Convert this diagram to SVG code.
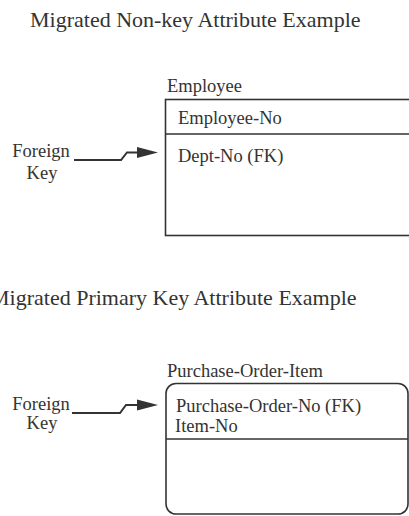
<svg xmlns="http://www.w3.org/2000/svg" width="409" height="516" viewBox="0 0 409 516">
<style>
text{font-family:"Liberation Serif","Times New Roman",serif;fill:#333}
.title{font-size:22px}
.lbl{font-size:18.5px}
.box{fill:none;stroke:#333;stroke-width:1.6}
.div{stroke:#333;stroke-width:1.6}
.conn{fill:none;stroke:#333;stroke-width:2}
.head{fill:#333}
</style>
<rect width="409" height="516" fill="#fff"/>
<text class="title" x="30" y="27">Migrated Non-key Attribute Example</text>
<text class="title" x="-10" y="305">Migrated Primary Key Attribute Example</text>
<g id="employee">
<text class="lbl" x="167" y="92">Employee</text>
<rect class="box" x="165.5" y="99.5" width="260" height="136"/>
<line class="div" x1="165.5" y1="134" x2="409" y2="134"/>
<text class="lbl" x="178" y="124">Employee-No</text>
<text class="lbl" x="178" y="162">Dept-No (FK)</text>
</g>
<g id="fk-label-1">
<text class="lbl" x="41" y="157" text-anchor="middle">Foreign</text>
<text class="lbl" x="42" y="178.5" text-anchor="middle">Key</text>
</g>
<g id="purchase-order-item">
<text class="lbl" x="167" y="377">Purchase-Order-Item</text>
<rect class="box" x="166" y="383.5" width="242" height="130.5" rx="10" ry="10"/>
<line class="div" x1="166" y1="439" x2="408" y2="439"/>
<text class="lbl" x="176" y="412">Purchase-Order-No (FK)</text>
<text class="lbl" x="175" y="432">Item-No</text>
</g>
<g id="fk-label-2">
<text class="lbl" x="41" y="410" text-anchor="middle">Foreign</text>
<text class="lbl" x="42" y="428.5" text-anchor="middle">Key</text>
</g>
<g id="connectors">
<polyline class="conn" points="74,160 121,160 127,152.5 140,152.5"/>
<polygon class="head" points="137,147 158,152.5 137,158"/>
<polyline class="conn" points="72,413 120,413 126,405 140,405"/>
<polygon class="head" points="137,399.5 158,405 137,410.5"/>
</g>
</svg>
